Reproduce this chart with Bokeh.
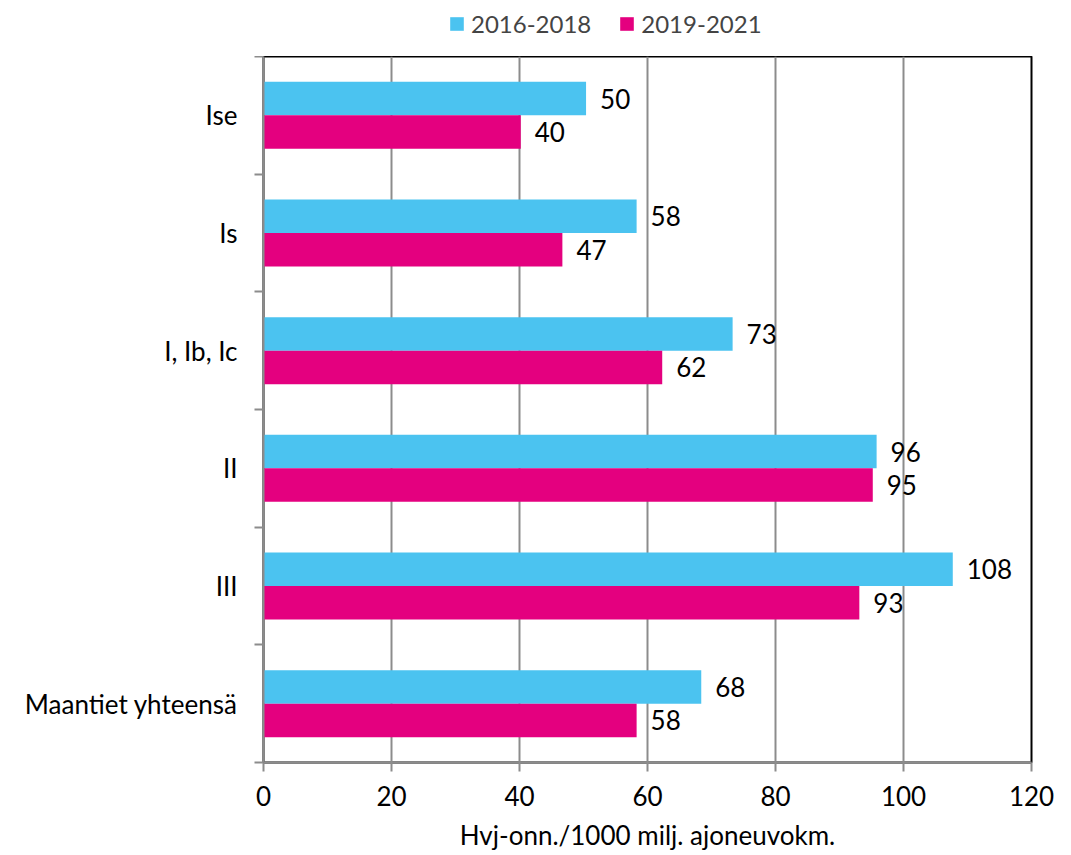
from bokeh.plotting import figure
from bokeh.models import Range1d, FixedTicker, ColumnDataSource, Legend, LegendItem
from bokeh.layouts import column
from bokeh.core.properties import value
from bokeh.embed import file_html
from bokeh.resources import INLINE

categories = ["Ise", "Is", "I, Ib, Ic", "II", "III", "Maantiet yhteensä"]
series_names = ["2016-2018", "2019-2021"]
values_2016_2018 = [50.4, 58.3, 73.3, 95.8, 107.7, 68.4]
values_2019_2021 = [40.2, 46.7, 62.3, 95.2, 93.1, 58.3]
x_ticks = [0, 20, 40, 60, 80, 100, 120]
x_title = "Hvj-onn./1000 milj. ajoneuvokm."

COL1 = "#4BC3F0"
COL2 = "#E4007F"
FONT = "Lato"
FS = "26px"

n = len(categories)
centers = [n - 1 - i + 0.5 for i in range(n)]
bar_h = 0.285

p = figure(width=1071, height=799, output_backend="svg", toolbar_location=None,
           x_range=Range1d(0, 120), y_range=Range1d(0, n),
           min_border_left=263, min_border_right=40, min_border_top=0, min_border_bottom=93)
p.background_fill_color = "white"
p.border_fill_color = "white"
p.outline_line_color = "black"
p.outline_line_width = 2

src1 = ColumnDataSource(dict(y=[c + bar_h / 2 for c in centers], x=values_2016_2018,
                             lab=[str(round(v)) for v in values_2016_2018]))
src2 = ColumnDataSource(dict(y=[c - bar_h / 2 for c in centers], x=values_2019_2021,
                             lab=[str(round(v)) for v in values_2019_2021]))

r1 = p.hbar(y="y", right="x", left=0, height=bar_h, source=src1, fill_color=COL1, line_color=None)
r2 = p.hbar(y="y", right="x", left=0, height=bar_h, source=src2, fill_color=COL2, line_color=None)

for s in (src1, src2):
    p.text(x="x", y="y", text="lab", source=s, x_offset=14, text_align="left", text_baseline="middle",
           text_font=value(FONT), text_font_size=FS, text_color="black")

# grid
p.xgrid.ticker = FixedTicker(ticks=[20, 40, 60, 80, 100])
p.xgrid.grid_line_color = "#8c8c8c"
p.xgrid.grid_line_width = 2
p.ygrid.grid_line_color = None

# x axis
xa = p.xaxis[0]
xa.ticker = FixedTicker(ticks=x_ticks)
xa.axis_line_color = "#8c8c8c"
xa.axis_line_width = 2
xa.major_tick_line_color = "#8c8c8c"
xa.major_tick_line_width = 2
xa.major_tick_out = 9
xa.major_tick_in = 0
xa.minor_tick_line_color = None
xa.major_label_text_font = FONT
xa.major_label_text_font_size = FS
xa.major_label_text_color = "black"
xa.major_label_standoff = 14
xa.axis_label = x_title
xa.axis_label_text_font = FONT
xa.axis_label_text_font_size = FS
xa.axis_label_text_font_style = "normal"
xa.axis_label_text_color = "black"
xa.axis_label_standoff = 10

# y axis
ya = p.yaxis[0]
ya.ticker = FixedTicker(ticks=centers, minor_ticks=list(range(n + 1)))
ya.major_label_overrides = {c: categories[i] for i, c in enumerate(centers)}
ya.axis_line_color = "#8c8c8c"
ya.axis_line_width = 2
ya.major_tick_line_color = None
ya.major_tick_out = 0
ya.major_tick_in = 0
ya.minor_tick_line_color = "#8c8c8c"
ya.minor_tick_line_width = 2
ya.minor_tick_out = 9
ya.minor_tick_in = 0
ya.major_label_text_font = FONT
ya.major_label_text_font_size = FS
ya.major_label_text_color = "black"
ya.major_label_standoff = 17

# legend strip on top (its frame is aligned with the main frame by the column layout)
lf = figure(width=1071, height=56, output_backend="svg", toolbar_location=None,
            x_range=Range1d(0, 1), y_range=Range1d(0, 1),
            min_border_left=0, min_border_right=0, min_border_top=0, min_border_bottom=0)
lf.axis.visible = False
lf.grid.visible = False
lf.outline_line_color = None
lf.background_fill_color = "white"
lf.border_fill_color = "white"
offscreen = dict(y=[-10], right=[1])
lr1 = lf.hbar(y="y", right="right", left=0, height=0.1, source=ColumnDataSource(offscreen),
              fill_color=COL1, line_color=None)
lr2 = lf.hbar(y="y", right="right", left=0, height=0.1, source=ColumnDataSource(offscreen),
              fill_color=COL2, line_color=None)
legend = Legend(items=[LegendItem(label=series_names[0], renderers=[lr1], index=0),
                       LegendItem(label=series_names[1], renderers=[lr2], index=0)],
                orientation="horizontal", location=(185, 18),
                label_text_font=FONT, label_text_font_size="24px",
                glyph_width=17, glyph_height=17, spacing=27, padding=0, margin=0,
                label_standoff=6, border_line_color=None, background_fill_alpha=0)
lf.add_layout(legend, "center")

open("out.html", "w").write(file_html(column(lf, p, spacing=0), INLINE))
